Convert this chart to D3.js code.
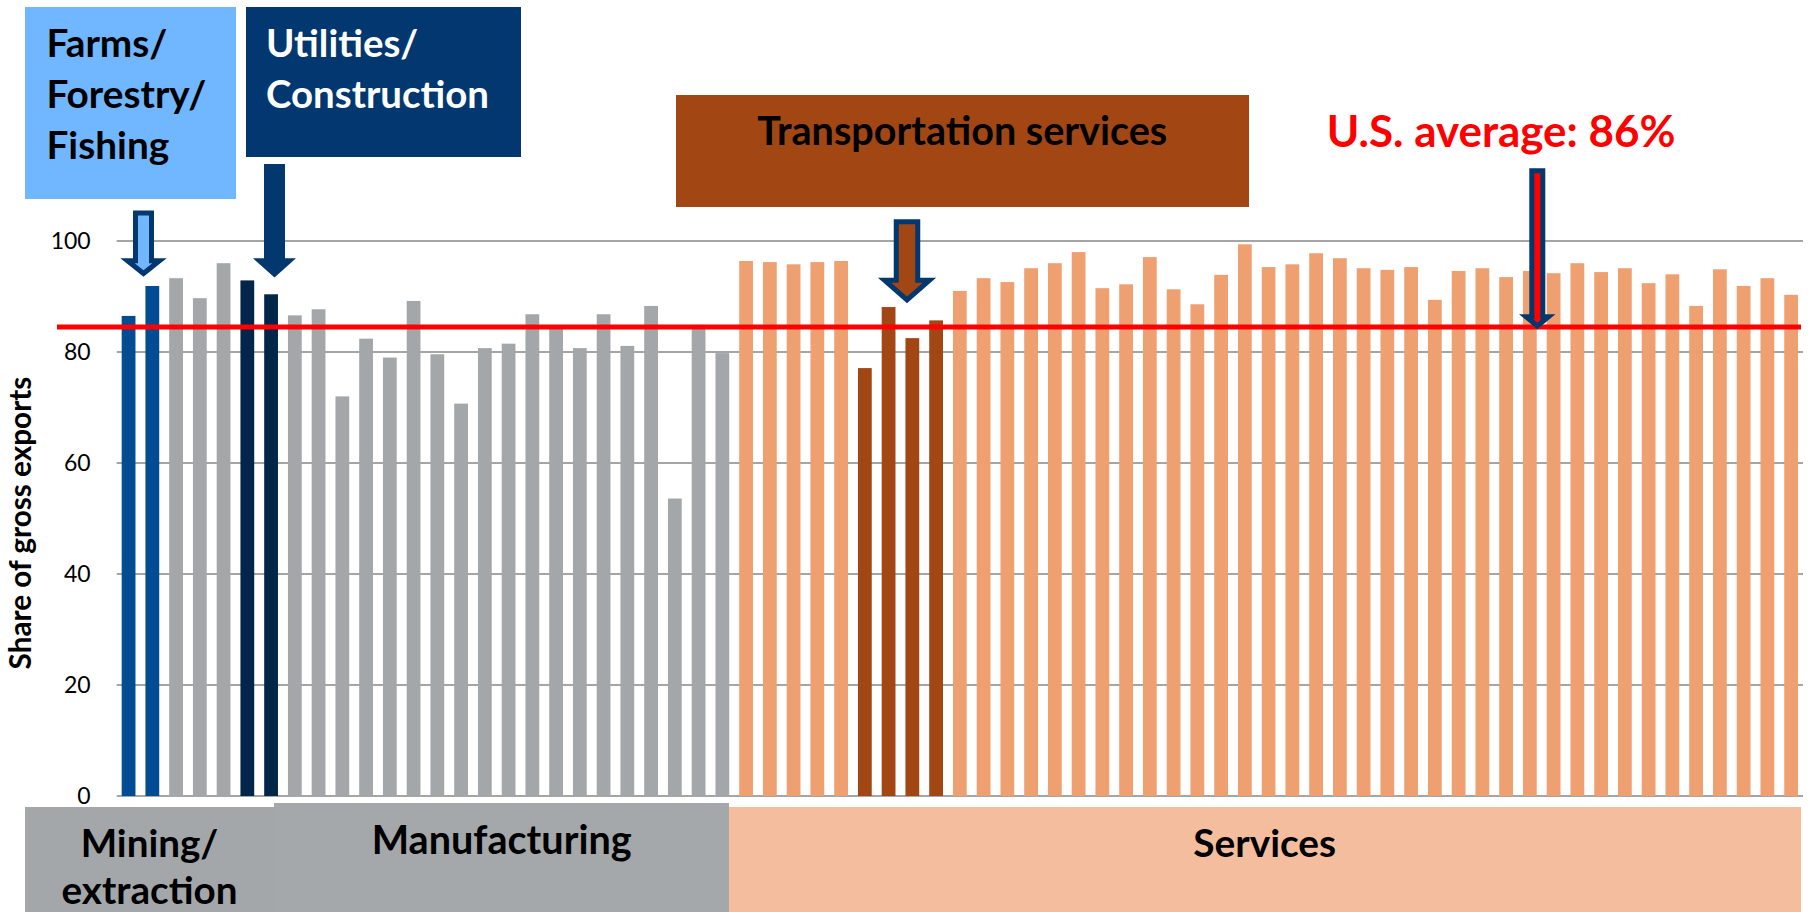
<!DOCTYPE html>
<html>
<head>
<meta charset="utf-8">
<script src="https://cdn.jsdelivr.net/npm/d3@7"></script>
<style>
  body { margin: 0; background: #fff; }
  text { font-family: Lato, "Open Sans", sans-serif; }
</style>
</head>
<body>
<div id="chart"></div>
<script>
// domestic share of gross exports by industry, percent
var farmsValues = [86.5, 91.9];
var miningValues = [93.3, 89.7, 96.0];
var utilitiesValues = [92.9, 90.4];
var manufacturingValues = [86.6, 87.7, 72.0, 82.4, 79.0, 89.2, 79.6, 70.7, 80.7, 81.5,
  86.8, 84.3, 80.7, 86.8, 81.1, 88.3, 53.6, 84.9, 79.8];
var servicesValuesA = [96.4, 96.2, 95.8, 96.2, 96.4];
var transportValues = [77.1, 88.1, 82.5, 85.7];
var servicesValuesB = [91.0, 93.3, 92.6, 95.1, 96.0, 98.0, 91.5, 92.2, 97.1, 91.3,
  88.6, 93.9, 99.4, 95.3, 95.8, 97.8, 96.9, 95.1, 94.8, 95.3,
  89.4, 94.6, 95.1, 93.5, 94.6, 94.2, 96.0, 94.4, 95.1, 92.4,
  94.0, 88.3, 94.9, 91.9, 93.3, 90.3];
var usAverage = 84.5;
var yTicks = [0, 20, 40, 60, 80, 100];

var groups = [
  { values: farmsValues, color: '#024c94' },
  { values: miningValues, color: '#a3a7a9' },
  { values: utilitiesValues, color: '#012649' },
  { values: manufacturingValues, color: '#a3a7a9' },
  { values: servicesValuesA, color: '#efa071' },
  { values: transportValues, color: '#a24713' },
  { values: servicesValuesB, color: '#efa071' }
];

var bars = [];
groups.forEach(function (g) {
  g.values.forEach(function (v) {
    bars.push({ i: bars.length, value: v, color: g.color });
  });
});

var width = 1811,
  height = 912,
  plot = { left: 116.7, right: 1803, top: 241, bottom: 796 },
  navy = '#03386e';

var svg = d3.select('#chart')
  .append('svg')
  .attr('width', width)
  .attr('height', height);

var x = d3.scaleBand()
  .domain(bars.map(function (d) { return d.i; }))
  .range([plot.left, plot.right])
  .paddingInner(0.42)
  .paddingOuter(0.21);

var y = d3.scaleLinear()
  .domain([0, 100])
  .range([plot.bottom, plot.top]);

// shrink/grow a text so it spans the given width
function fit(sel, target) {
  var w = d3.max(sel.nodes(), function (n) { return n.getComputedTextLength(); });
  var fs = parseFloat(sel.attr('font-size'));
  sel.attr('font-size', fs * target / w);
}

// gridlines
svg.append('g')
  .selectAll('line')
  .data(yTicks)
  .enter()
  .append('line')
  .attr('x1', plot.left)
  .attr('x2', plot.right)
  .attr('y1', function (d) { return y(d); })
  .attr('y2', function (d) { return y(d); })
  .style('stroke', '#878787')
  .style('stroke-width', 1.6);

var yAxis = svg.append('g')
  .attr('transform', 'translate(' + (plot.left - 26) + ',0)')
  .call(d3.axisLeft(y).tickValues(yTicks).tickSize(0).tickPadding(0));
yAxis.select('.domain').remove();
yAxis.selectAll('text')
  .attr('font-size', 23)
  .style('font-family', 'Lato, "Open Sans", sans-serif')
  .attr('fill', '#000');

svg.append('text')
  .attr('class', 'ylabel')
  .attr('transform', 'translate(31,523) rotate(-90)')
  .attr('text-anchor', 'middle')
  .attr('font-size', 24)
  .attr('font-weight', 'bold')
  .text('Share of gross exports')
  .call(fit, 293);

// bars
svg.append('g')
  .selectAll('rect')
  .data(bars)
  .enter()
  .append('rect')
  .attr('x', function (d) { return x(d.i); })
  .attr('width', x.bandwidth())
  .attr('y', function (d) { return y(d.value); })
  .attr('height', function (d) { return y(0) - y(d.value); })
  .style('fill', function (d) { return d.color; });

// average line
svg.append('line')
  .attr('x1', 57)
  .attr('x2', 1801)
  .attr('y1', y(usAverage))
  .attr('y2', y(usAverage))
  .style('stroke', '#ff0000')
  .style('stroke-width', 5);

// bottom sector panels
var panels = [
  { x0: 25, x1: 274, top: 807, color: '#a3a7a9', lines: ['Mining/', 'extraction'], cx: 149.5, base: [857, 904], w: 176 },
  { x0: 274, x1: 729, top: 803, color: '#a4a8aa', lines: ['Manufacturing'], cx: 501.7, base: [854], w: 260 },
  { x0: 729, x1: 1801, top: 807, color: '#f4bd9e', lines: ['Services'], cx: 1264.7, base: [857], w: 143 }
];
panels.forEach(function (p) {
  svg.append('rect')
    .attr('x', p.x0).attr('y', p.top)
    .attr('width', p.x1 - p.x0).attr('height', height - p.top)
    .style('fill', p.color);
  var t = svg.append('g').selectAll('text')
    .data(p.lines)
    .enter()
    .append('text')
    .attr('x', p.cx)
    .attr('y', function (d, i) { return p.base[i]; })
    .attr('text-anchor', 'middle')
    .attr('font-size', 36)
    .attr('font-weight', 'bold')
    .attr('fill', '#000')
    .text(function (d) { return d; });
  fit(t, p.w);
});

// callout boxes
var callouts = [
  { x: 25, y: 7, w: 211, h: 192, fill: '#71b7ff', color: '#000', lines: ['Farms/', 'Forestry/', 'Fishing'], tx: 46.4, base: [56.7, 108, 159], tw: 160 },
  { x: 246, y: 7, w: 275, h: 150, fill: '#02386f', color: '#fff', lines: ['Utilities/', 'Construction'], tx: 266, base: [56.7, 108], tw: 223 },
  { x: 676, y: 95, w: 573, h: 112, fill: '#a24713', color: '#000', lines: ['Transportation services'], tx: 757.3, base: [145], tw: 410 }
];
callouts.forEach(function (c) {
  svg.append('rect')
    .attr('x', c.x).attr('y', c.y)
    .attr('width', c.w).attr('height', c.h)
    .style('fill', c.fill);
  var t = svg.append('g').selectAll('text')
    .data(c.lines)
    .enter()
    .append('text')
    .attr('x', c.tx)
    .attr('y', function (d, i) { return c.base[i]; })
    .attr('font-size', 36)
    .attr('font-weight', 'bold')
    .attr('fill', c.color)
    .text(function (d) { return d; });
  fit(t, c.tw);
});

svg.append('text')
  .attr('x', 1326.7)
  .attr('y', 146.7)
  .attr('font-size', 40)
  .attr('font-weight', 'bold')
  .attr('fill', '#ff0000')
  .text('U.S. average: ' + 86 + '%')
  .call(fit, 349);

// down arrows, outer sizes; stroke drawn inside
function arrowPath(a) {
  var s = a.stroke / 2,
    hs = a.shaftW / 2 - s,
    hh = a.headW / 2 - s * 2.2,
    top = a.top + s,
    ht = a.headTop + s,
    tip = a.tip - s * 1.6;
  return 'M' + (a.cx - hs) + ',' + top +
    'L' + (a.cx + hs) + ',' + top +
    'L' + (a.cx + hs) + ',' + ht +
    'L' + (a.cx + hh) + ',' + ht +
    'L' + a.cx + ',' + tip +
    'L' + (a.cx - hh) + ',' + ht +
    'L' + (a.cx - hs) + ',' + ht + 'Z';
}

var arrows = [
  { cx: 143.5, top: 210.5, shaftW: 21, headW: 43, headTop: 258.3, tip: 277.5, fill: '#71b7ff', stroke: 5 },
  { cx: 274.5, top: 164, shaftW: 21, headW: 43, headTop: 258.3, tip: 277.5, fill: navy, stroke: 0 },
  { cx: 907, top: 219.3, shaftW: 26.5, headW: 56, headTop: 277.7, tip: 304, fill: '#a24713', stroke: 5 },
  { cx: 1537.3, top: 168.3, shaftW: 16, headW: 33.5, headTop: 314.3, tip: y(usAverage) + 3, fill: '#ff0000', stroke: 5 }
];
svg.append('g')
  .selectAll('path')
  .data(arrows)
  .enter()
  .append('path')
  .attr('d', arrowPath)
  .style('fill', function (d) { return d.fill; })
  .style('stroke', navy)
  .style('stroke-width', function (d) { return d.stroke; })
  .style('stroke-linejoin', 'miter');
</script>
</body>
</html>
